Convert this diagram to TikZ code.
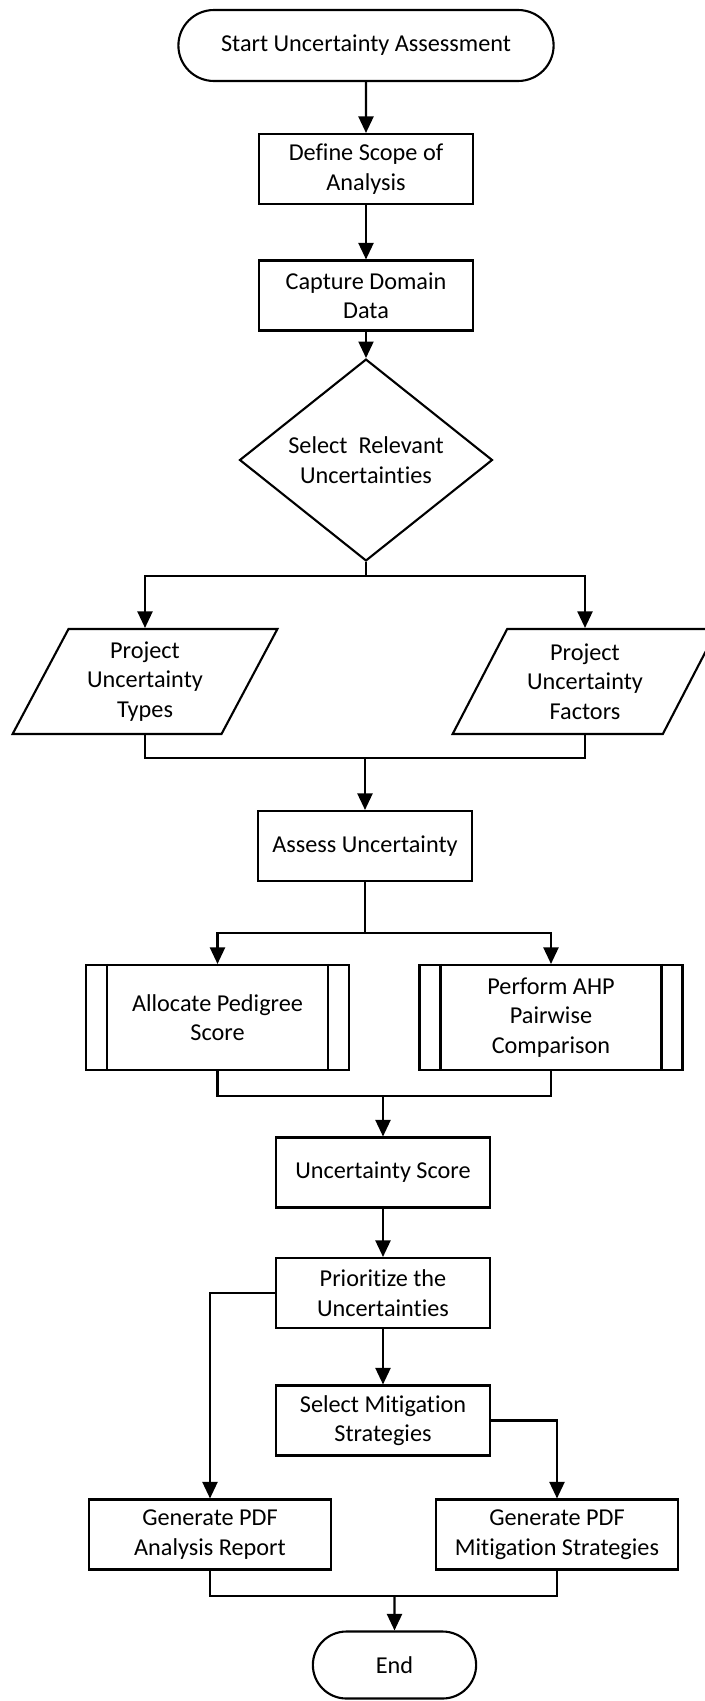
\documentclass[tikz,border=0pt]{standalone}
\usepackage{fontspec}
\setmainfont{Carlito}[Ligatures=NoCommon]
\usetikzlibrary{shapes.geometric,shapes.misc,arrows.meta}

\begin{document}
\begin{tikzpicture}[x=0.02cm,y=-0.02cm,line width=1.2pt,
  every node/.style={font=\fontsize{13.8}{16.8}\selectfont, align=center},
  term/.style={draw, rounded rectangle, minimum height=1.42cm},
  proc/.style={draw, rectangle, minimum width=4.28cm, minimum height=1.4cm},
  decide/.style={draw, diamond, minimum width=5.06cm, minimum height=3.2cm, inner sep=0pt},
  io/.style={draw, trapezium, trapezium left angle=63, trapezium right angle=117, trapezium stretches=true, minimum width=5.3cm, minimum height=2.1cm},
  subproc/.style={draw, rectangle, minimum width=5.26cm, minimum height=2.1cm},
  arr/.style={-{Triangle[length=0.33cm,width=0.3cm]}}]

\useasboundingbox (0,0) rectangle (705,1701);

\node[term, minimum width=7.74cm] (start) at (366,45.5) {Start Uncertainty Assessment};
\node[proc] (scope) at (366,169) {Define Scope of\\Analysis};
\node[proc] (data) at (366,295.5) {Capture Domain\\Data};
\node[decide] (select) at (366,460) {Select\ \ Relevant\\Uncertainties};
\node[io] (types) at (145,681.5) {Project\\Uncertainty\\Types};
\node[io] (factors) at (585,681.5) {Project\\Uncertainty\\Factors};
\node[proc] (assess) at (365,846) {Assess Uncertainty};
\node[subproc] (pedigree) at (217.5,1017.5) {Allocate Pedigree\\Score};
\node[subproc] (ahp) at (551,1017.5) {Perform AHP\\Pairwise\\Comparison};
\node[proc] (score) at (383,1172.5) {Uncertainty Score};
\node[proc] (prior) at (383,1293) {Prioritize the\\Uncertainties};
\node[proc] (mitig) at (383,1420.5) {Select Mitigation\\Strategies};
\node[proc, minimum width=4.84cm] (report) at (210,1534.5) {Generate PDF\\Analysis Report};
\node[proc, minimum width=4.84cm] (strat) at (557,1534.5) {Generate PDF\\Mitigation Strategies};
\node[term, minimum width=3.5cm, minimum height=1.34cm] (end) at (394.5,1665) {End};

\foreach \n in {pedigree,ahp}
{
	\draw ([xshift=0.44cm]\n.north west) -- ([xshift=0.44cm]\n.south west);
	\draw ([xshift=-0.44cm]\n.north east) -- ([xshift=-0.44cm]\n.south east);
}

\draw[arr] (start) -- (scope);
\draw[arr] (scope) -- (data);
\draw[arr] (data) -- (select);
\coordinate (split1) at (366,576);
\draw (select.south) -- (split1);
\draw[arr] (split1) -| (types.north);
\draw[arr] (split1) -| (factors.north);
\coordinate (join1) at (365,758);
\draw (types.south) |- (join1) -| (factors.south);
\draw[arr] (join1) -- (assess);
\coordinate (split2) at (365,933);
\draw (assess.south) -- (split2);
\draw[arr] (split2) -| (pedigree.north);
\draw[arr] (split2) -| (ahp.north);
\coordinate (join2) at (383,1096);
\draw (pedigree.south) |- (join2) -| (ahp.south);
\draw[arr] (join2) -- (score);
\draw[arr] (score) -- (prior);
\draw[arr] (prior) -- (mitig);
\draw[arr] (prior.west) -| (report.north);
\draw[arr] (mitig.east) -| (strat.north);
\coordinate (join3) at (394.5,1596);
\draw (report.south) |- (join3) -| (strat.south);
\draw[arr] (join3) -- (end);
\end{tikzpicture}
\end{document}
